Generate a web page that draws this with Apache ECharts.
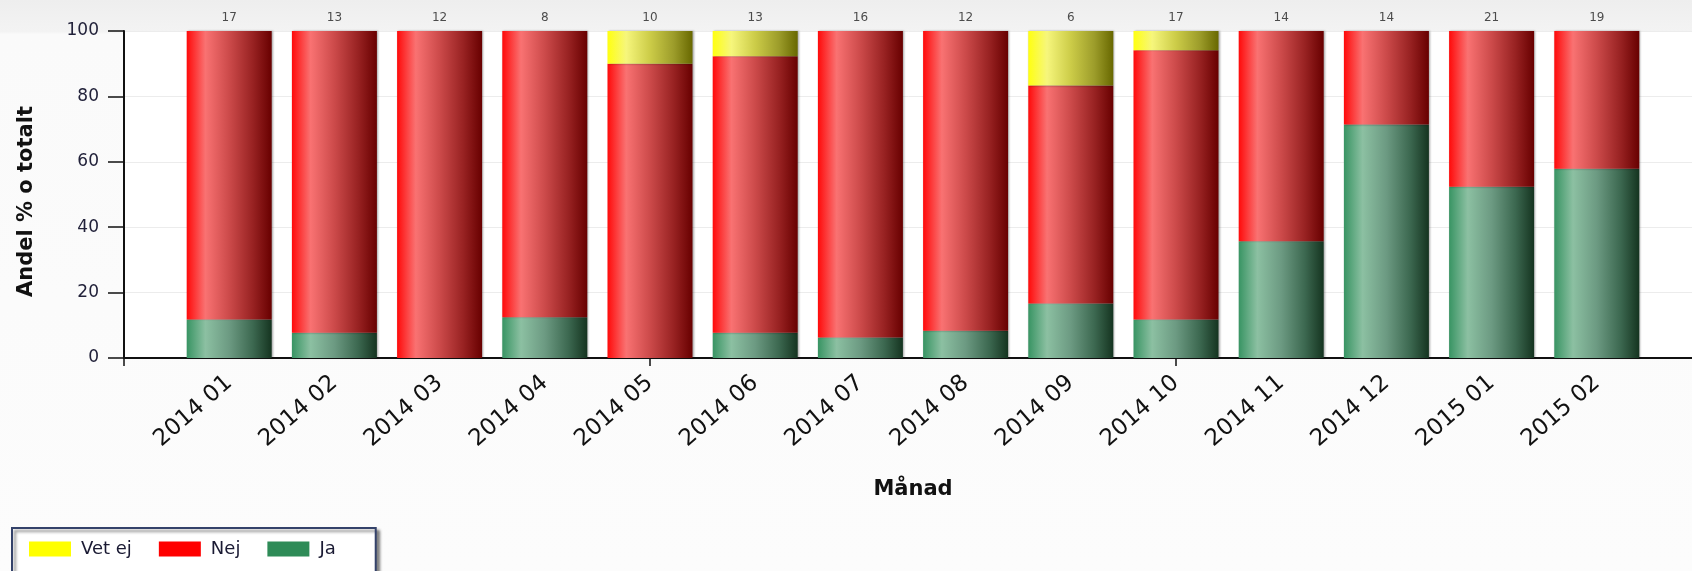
<!DOCTYPE html>
<html>
<head>
<meta charset="utf-8">
<script src="https://cdn.jsdelivr.net/npm/echarts@6/dist/echarts.min.js"></script>
<style>
html,body{margin:0;padding:0;background:#fff;}
#chart{width:1692px;height:571px;}
</style>
</head>
<body>
<div id="chart"></div>
<script>
// ---- data ----
const categories = ['2014 01','2014 02','2014 03','2014 04','2014 05','2014 06','2014 07','2014 08','2014 09','2014 10','2014 11','2014 12','2015 01','2015 02'];
const totals = [17,13,12,8,10,13,16,12,6,17,14,14,21,19];
const ja    = [11.8, 7.7, 0, 12.5, 0, 7.7, 6.3, 8.3, 16.7, 11.8, 35.7, 71.4, 52.4, 57.9];
const nej   = [88.2, 92.3, 100, 87.5, 90, 84.6, 93.7, 91.7, 66.6, 82.3, 64.3, 28.6, 47.6, 42.1];
const vetEj = [0, 0, 0, 0, 10, 7.7, 0, 0, 16.7, 5.9, 0, 0, 0, 0];
const yAxisTitle = 'Andel % o totalt';
const xAxisTitle = 'Månad';

// ---- helpers ----
const pad = arr => ['-'].concat(arr, ['-']);
const xData = [''].concat(categories, ['']);
const grad = stops => new echarts.graphic.LinearGradient(0, 0, 1, 0, stops.map((c, i) => ({offset: [0, 0.22, 0.5, 0.78, 1][i], color: c})));
const redGrad = grad(['#ff0a0a', '#f97272', '#cc4a4a', '#982222', '#680000']);
const greenGrad = grad(['#389463', '#8cc0a2', '#6c9a82', '#3c6850', '#153420']);
const yellowGrad = grad(['#ffff10', '#f6f67c', '#cccc48', '#9c9c2a', '#686800']);

const chart = echarts.init(document.getElementById('chart'), null, {renderer: 'canvas'});
const barCommon = {
  type: 'bar', stack: 'a', barWidth: 85, animation: false,
  itemStyle: {shadowColor: 'rgba(0,0,0,0.35)', shadowBlur: 2, shadowOffsetX: 1}
};
chart.setOption({
  animation: false,
  backgroundColor: new echarts.graphic.LinearGradient(0, 0, 0, 1, [
    {offset: 0, color: '#eeeeee'}, {offset: 0.055, color: '#f3f3f3'}, {offset: 0.06, color: '#fafafa'}, {offset: 1, color: '#fcfcfc'}
  ]),
  textStyle: {fontFamily: 'DejaVu Sans'},
  grid: {left: 124, width: 1578, top: 31, bottom: 213, outerBoundsMode: 'none', containLabel: false,
    show: true, backgroundColor: '#ffffff', borderWidth: 0},
  legend: {
    left: 12, top: 528,
    data: [
      {name: 'Vet ej', itemStyle: {color: '#ffff00'}},
      {name: 'Nej', itemStyle: {color: '#ff0000'}},
      {name: 'Ja', itemStyle: {color: '#2e8b57'}}
    ],
    icon: 'rect', itemWidth: 42, itemHeight: 15, itemGap: 27,
    padding: [12, 40, 24, 17],
    backgroundColor: '#ffffff', borderColor: '#34426a', borderWidth: 2,
    shadowColor: 'rgba(0,0,0,0.45)', shadowBlur: 3, shadowOffsetX: 3, shadowOffsetY: 3,
    textStyle: {fontFamily: 'DejaVu Sans', fontSize: 18, color: '#1a1a33', padding: [0, 0, 0, 5]}
  },
  xAxis: {
    type: 'category', data: xData, boundaryGap: false,
    name: xAxisTitle, nameLocation: 'middle', nameGap: 121,
    nameTextStyle: {fontFamily: 'DejaVu Sans', fontWeight: 'bold', fontSize: 21, color: '#111'},
    axisLine: {lineStyle: {color: '#111', width: 2}},
    axisTick: {show: true, length: 8, interval: (i) => i % 5 === 0, lineStyle: {color: '#111', width: 1.5}},
    axisLabel: {interval: 0, rotate: 41, margin: 22, fontSize: 23, color: '#111', fontFamily: 'DejaVu Sans'},
    splitLine: {show: false}
  },
  yAxis: {
    type: 'value', min: 0, max: 100, interval: 20,
    name: yAxisTitle, nameLocation: 'middle', nameGap: 87, nameRotate: 90,
    nameTextStyle: {fontFamily: 'DejaVu Sans', fontWeight: 'bold', fontSize: 21, color: '#111', padding: [0, 14, 0, 0]},
    axisLine: {show: true, lineStyle: {color: '#111', width: 2}},
    axisTick: {show: true, length: 16, lineStyle: {color: '#111', width: 1.5}},
    axisLabel: {margin: 25, fontSize: 17, color: '#22223a', fontFamily: 'DejaVu Sans'},
    splitLine: {show: true, lineStyle: {color: '#ececec', width: 1}}
  },
  series: [
    Object.assign({}, barCommon, {name: 'Ja', data: pad(ja), itemStyle: Object.assign({}, barCommon.itemStyle, {color: greenGrad})}),
    Object.assign({}, barCommon, {name: 'Nej', data: pad(nej), itemStyle: Object.assign({}, barCommon.itemStyle, {color: redGrad})}),
    Object.assign({}, barCommon, {name: 'Vet ej', data: pad(vetEj), itemStyle: Object.assign({}, barCommon.itemStyle, {color: yellowGrad})}),
    {
      type: 'scatter', name: 'n', data: pad(totals.map(() => 100)), symbolSize: 1,
      itemStyle: {color: 'rgba(0,0,0,0)'}, silent: true,
      label: {show: true, position: 'top', distance: 7, fontSize: 12, color: '#222',
        fontFamily: 'DejaVu Sans', formatter: p => String(totals[p.dataIndex - 1])}
    }
  ]
});
</script>
</body>
</html>
